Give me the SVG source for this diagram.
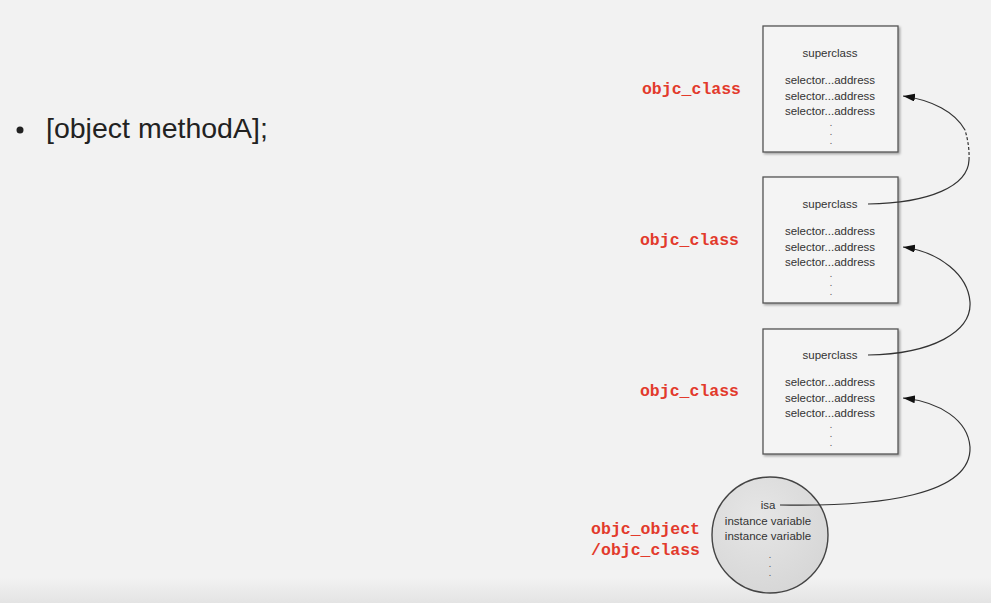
<svg xmlns="http://www.w3.org/2000/svg" width="991" height="608" viewBox="0 0 991 608">
<defs>
<linearGradient id="bg" x1="0" y1="0" x2="0" y2="1">
<stop offset="0" stop-color="#f2f2f2"/>
<stop offset="1" stop-color="#e3e3e3"/>
</linearGradient>
<radialGradient id="cf" cx="0.4" cy="0.35" r="0.7">
<stop offset="0" stop-color="#e6e6e6"/>
<stop offset="1" stop-color="#d6d6d6"/>
</radialGradient>
<filter id="sh" x="-10%" y="-10%" width="130%" height="130%">
<feDropShadow dx="1.5" dy="1.5" stdDeviation="1" flood-color="#000" flood-opacity="0.35"/>
</filter>
<marker id="ah" markerWidth="13" markerHeight="9" refX="12" refY="4" orient="auto" markerUnits="userSpaceOnUse">
<path d="M0,0 L12,4 L0,8 z" fill="#111"/>
</marker>
<style>
.box{fill:#f4f4f4;stroke:#555;stroke-width:1.3;filter:url(#sh)}
.t{font-family:"Liberation Sans",Arial,sans-serif;font-size:11.5px;fill:#333;text-anchor:middle}
.d{font-family:"Liberation Sans",Arial,sans-serif;font-size:7px;font-weight:bold;fill:#666;text-anchor:middle}
.lbl{font-family:"Liberation Mono","Courier New",monospace;font-weight:bold;font-size:16.5px;fill:#e23a2c}
.c{fill:none;stroke:#333;stroke-width:1.2}
</style>
</defs>
<rect x="0" y="0" width="991" height="608" fill="#f2f2f2"/>
<rect x="0" y="578" width="991" height="26" fill="url(#bg)"/>
<rect x="0" y="603" width="991" height="5" fill="#ffffff"/>

<g id="bullet">
<circle cx="20" cy="130" r="3.5" fill="#222"/>
<text x="46" y="138" font-family="Liberation Sans,Arial,sans-serif" font-size="28.5" fill="#222">[object methodA];</text>
</g>

<g id="label1"><text class="lbl" x="741" y="94" text-anchor="end">objc_class</text></g>
<g id="label2"><text class="lbl" x="739" y="245" text-anchor="end">objc_class</text></g>
<g id="label3"><text class="lbl" x="739" y="396" text-anchor="end">objc_class</text></g>
<g id="label4">
<text class="lbl" x="700" y="534" text-anchor="end">objc_object</text>
<text class="lbl" x="700" y="555" text-anchor="end">/objc_class</text>
</g>

<g id="class1">
<rect class="box" x="763" y="26" width="135" height="126"/>
<text class="t" x="830" y="57">superclass</text>
<text class="t" x="830" y="84">selector...address</text>
<text class="t" x="830" y="100">selector...address</text>
<text class="t" x="830" y="115">selector...address</text>
<text class="d" x="831" y="126">.</text>
<text class="d" x="831" y="135">.</text>
<text class="d" x="831" y="144">.</text>
</g>

<g id="class2">
<rect class="box" x="763" y="177" width="135" height="126"/>
<text class="t" x="830" y="208">superclass</text>
<text class="t" x="830" y="235">selector...address</text>
<text class="t" x="830" y="251">selector...address</text>
<text class="t" x="830" y="266">selector...address</text>
<text class="d" x="831" y="277">.</text>
<text class="d" x="831" y="286">.</text>
<text class="d" x="831" y="295">.</text>
</g>

<g id="class3">
<rect class="box" x="763" y="329" width="135" height="125"/>
<text class="t" x="830" y="359">superclass</text>
<text class="t" x="830" y="386">selector...address</text>
<text class="t" x="830" y="402">selector...address</text>
<text class="t" x="830" y="417">selector...address</text>
<text class="d" x="831" y="428">.</text>
<text class="d" x="831" y="437">.</text>
<text class="d" x="831" y="446">.</text>
</g>

<g id="object">
<circle cx="770" cy="535" r="58" fill="url(#cf)" stroke="#444" stroke-width="1.4"/>
<text class="t" x="768" y="509">isa</text>
<text class="t" x="768" y="525">instance variable</text>
<text class="t" x="768" y="540">instance variable</text>
<text class="d" x="770" y="558">.</text>
<text class="d" x="770" y="567">.</text>
<text class="d" x="770" y="576">.</text>
</g>

<g id="connectors">
<path class="c" d="M868,204 C930,203 968,186 969,160"/>
<path class="c" d="M969,160 C969.5,150 968,140 965,130" stroke-dasharray="3,2"/>
<path class="c" d="M965,130 C955,112 932,100 903,96" marker-end="url(#ah)"/>
<path class="c" d="M868,355 C932,354 972,332 970,302 C968,275 940,252 903,247" marker-end="url(#ah)"/>
<path class="c" d="M780,505 C880,507 972,495 970,447 C968,420 940,402 903,398" marker-end="url(#ah)"/>
</g>
</svg>
